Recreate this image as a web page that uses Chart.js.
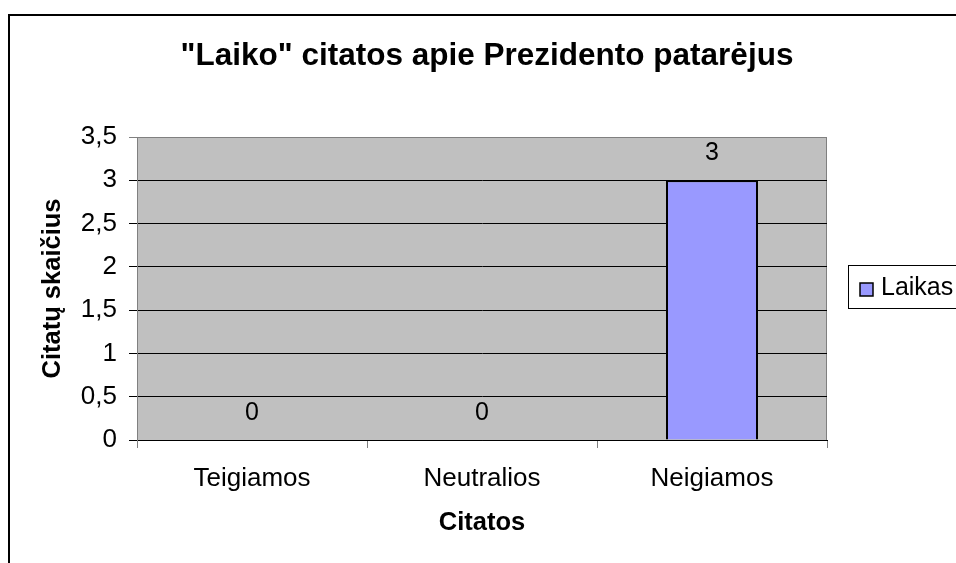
<!DOCTYPE html>
<html>
<head>
<meta charset="utf-8">
<script src="https://cdn.jsdelivr.net/npm/chart.js@4.4.1/dist/chart.umd.min.js"></script>
<style>
  html, body { margin: 0; padding: 0; background: #fff; }
  canvas { display: block; }
</style>
</head>
<body>
<canvas id="chart" width="956" height="563"></canvas>
<script>
const categories = ['Teigiamos', 'Neutralios', 'Neigiamos'];
const laikas = [0, 0, 3];
const yTicks = [0, 0.5, 1, 1.5, 2, 2.5, 3, 3.5];
const chartTitle = '"Laiko" citatos apie Prezidento patarėjus';
const seriesName = 'Laikas';
const FONT = "'Liberation Sans', Arial, sans-serif";

// excel-ish look: gray plot area, outer frame, boxed legend, value labels
const decor = {
    id: 'decor',
    beforeDraw(chart) {
        const {ctx, chartArea: a} = chart;
        ctx.save();
        ctx.fillStyle = '#fff';
        ctx.fillRect(0, 0, chart.width, chart.height);
        ctx.fillStyle = '#C0C0C0';
        ctx.fillRect(a.left, a.top, a.right - a.left, a.bottom - a.top);
        ctx.strokeStyle = '#808080';
        ctx.lineWidth = 1;
        ctx.strokeRect(a.left + 0.5, a.top + 0.5, a.right - a.left - 1, a.bottom - a.top);
        ctx.restore();
    },
    afterDatasetsDraw(chart) {
        const {ctx} = chart;
        const x = chart.scales.x, y = chart.scales.y;
        ctx.save();
        ctx.font = '25px ' + FONT;
        ctx.fillStyle = '#000';
        ctx.textAlign = 'center';
        ctx.textBaseline = 'middle';
        chart.data.datasets[0].data.forEach((v, i) => {
            ctx.fillText(String(v), x.getPixelForValue(i), y.getPixelForValue(v) - 27);
        });
        ctx.restore();
    },
    afterDraw(chart) {
        const {ctx} = chart;
        const ds = chart.data.datasets[0];
        ctx.save();
        // outer frame
        ctx.strokeStyle = '#000';
        ctx.lineWidth = 2;
        ctx.strokeRect(9, 15, 1000, 600);
        // title
        ctx.fillStyle = '#000';
        ctx.font = 'bold 31.5px ' + FONT;
        ctx.textAlign = 'center';
        ctx.textBaseline = 'middle';
        ctx.fillText(chartTitle, 487, 56);
        // legend
        ctx.lineWidth = 1;
        ctx.strokeStyle = '#000';
        ctx.strokeRect(848.5, 265.5, 140, 43);
        ctx.fillStyle = ds.backgroundColor;
        ctx.fillRect(860, 283, 13, 13);
        ctx.lineWidth = 1.5;
        ctx.strokeRect(860, 283, 13, 13);
        ctx.fillStyle = '#000';
        ctx.font = '25px ' + FONT;
        ctx.textAlign = 'left';
        ctx.fillText(ds.label, 881, 288);
        ctx.restore();
    }
};

new Chart(document.getElementById('chart'), {
    type: 'bar',
    data: {
        labels: categories,
        datasets: [{
            label: seriesName,
            data: laikas,
            backgroundColor: '#9999FF',
            borderColor: '#000',
            borderWidth: 2,
            barPercentage: 0.4,
            categoryPercentage: 1
        }]
    },
    options: {
        responsive: false,
        animation: false,
        devicePixelRatio: 1,
        layout: {padding: {top: 137, right: 129, left: 0, bottom: 0}},
        plugins: {
            legend: {display: false},
            title: {display: false},
            tooltip: {enabled: false}
        },
        scales: {
            x: {
                afterFit: s => { s.height = 123; },
                grid: {offset: true, drawOnChartArea: false, tickLength: 8, color: '#808080'},
                border: {color: '#000', width: 1},
                ticks: {font: {family: FONT, size: 26}, color: '#000', padding: 15, maxRotation: 0, autoSkip: false},
                title: {
                    display: true, text: 'Citatos', color: '#000',
                    font: {family: FONT, size: 25.5, weight: 'bold'},
                    padding: {top: 0, bottom: 25}
                }
            },
            y: {
                min: 0,
                max: 3.5,
                afterFit: s => { s.width = 137; },
                afterBuildTicks: s => { s.ticks = yTicks.map(v => ({value: v})); },
                grid: {
                    tickLength: 8,
                    color: c => (c.tick && c.tick.value === 3.5) ? '#808080' : '#000'
                },
                border: {color: '#808080', width: 1},
                ticks: {
                    font: {family: FONT, size: 26}, color: '#000', padding: 12,
                    callback: v => String(v).replace('.', ',')
                },
                title: {
                    display: true, text: 'Citatų skaičius', color: '#000',
                    font: {family: FONT, size: 25.5, weight: 'bold'},
                    padding: {top: 38, bottom: 0}
                }
            }
        }
    },
    plugins: [decor]
});
</script>
</body>
</html>
